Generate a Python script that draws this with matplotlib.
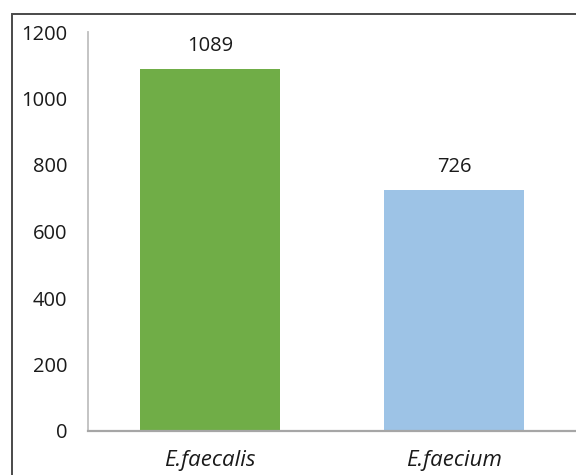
import matplotlib.pyplot as plt
from matplotlib.patches import Rectangle

# counts per species
species = ["E.faecalis", "E.faecium"]
counts = [1089, 726]
bar_colors = ["#70AD47", "#9DC3E6"]
yticks = [0, 200, 400, 600, 800, 1000, 1200]

plt.rcParams['font.family'] = ['Open Sans', 'DejaVu Sans']

fig = plt.figure(figsize=(5.76, 4.75), dpi=100)
ax = fig.add_axes([88 / 576, 44 / 475, 1 - 88 / 576, 399 / 475])

x = list(range(len(species)))
bars = ax.bar(x, counts, width=0.575, color=bar_colors, zorder=2)

for xi, v in zip(x, counts):
    ax.annotate(str(v), (xi, v), xytext=(0, 9), textcoords="offset points",
                ha="center", va="bottom", fontsize=14.5, color="#1a1a1a")

ax.set_xlim(-0.5, 1.5)
ax.set_ylim(0, 1200)
ax.set_yticks(yticks)
ax.set_xticks(x)
ax.set_xticklabels(species, fontstyle="italic", fontsize=16, color="#1a1a1a")
ax.tick_params(axis="y", length=0, pad=15, labelsize=14.5, labelcolor="#1a1a1a")
ax.tick_params(axis="x", length=0, pad=14)

for side in ["top", "right"]:
    ax.spines[side].set_visible(False)
ax.spines["left"].set_color("#BFBFBF")
ax.spines["left"].set_linewidth(1.3)
ax.spines["bottom"].set_color("#A6A6A6")
ax.spines["bottom"].set_linewidth(1.6)

# outer frame around the chart area
frame = Rectangle((12 / 576, -0.05), 1.2, (475 - 14) / 475 + 0.05,
                  transform=fig.transFigure, fill=False,
                  edgecolor="#4a4a4a", linewidth=1.4, clip_on=False)
fig.patches.append(frame)

fig.savefig("out.png", dpi=100)
